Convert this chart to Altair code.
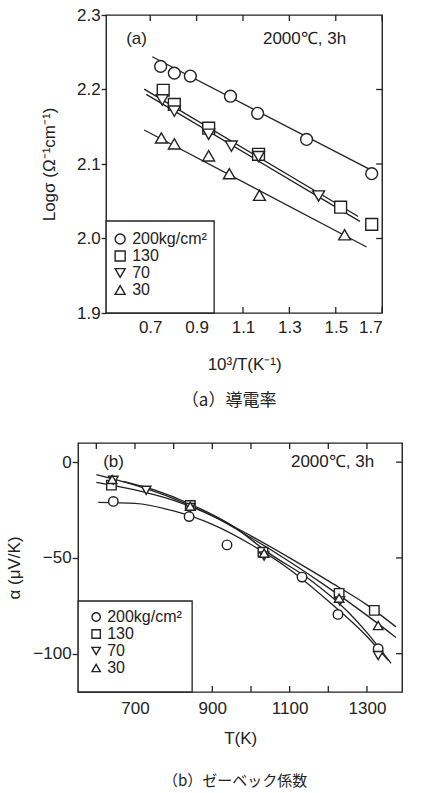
import altair as alt
import pandas as pd

FONT = "Liberation Sans Narrow, Liberation Sans, Arial, sans-serif"
CJK = "Noto Sans CJK JP"
INK = "#222222"

series = ["200kg/cm²", "130", "70", "30"]
shapes = ["circle", "square", "triangle-down", "triangle-up"]

# ---------------- Panel (a): conductivity ----------------
a_x_200 = [0.745, 0.804, 0.873, 1.046, 1.163, 1.374, 1.655]
a_y_200 = [2.231, 2.222, 2.218, 2.191, 2.168, 2.133, 2.087]
a_x_130 = [0.756, 0.804, 0.952, 1.167, 1.521, 1.655]
a_y_130 = [2.199, 2.180, 2.148, 2.113, 2.042, 2.019]
a_x_70 = [0.752, 0.804, 0.952, 1.050, 1.167, 1.426]
a_y_70 = [2.186, 2.171, 2.140, 2.124, 2.110, 2.057]
a_x_30 = [0.748, 0.804, 0.952, 1.041, 1.171, 1.538]
a_y_30 = [2.135, 2.127, 2.111, 2.087, 2.058, 2.005]

# fitted straight lines (end points)
a_line_x_200 = [0.709, 1.676]
a_line_y_200 = [2.244, 2.088]
a_line_x_130 = [0.674, 1.597]
a_line_y_130 = [2.2005, 2.0295]
a_line_x_70 = [0.683, 1.604]
a_line_y_70 = [2.1935, 2.0230]
a_line_x_30 = [0.674, 1.633]
a_line_y_30 = [2.1456, 1.9886]

a_xlabels = [0.7, 0.9, 1.1, 1.3, 1.5, 1.7]
a_ylabels = [1.9, 2.0, 2.1, 2.2, 2.3]
a_rticks = [2.0, 2.1, 2.2]

# ---------------- Panel (b): Seebeck coefficient ----------------
b_T_200 = [644, 840, 938, 1132, 1225, 1329]
b_a_200 = [-20.5, -28.4, -43.2, -60.0, -79.5, -97.4]
b_T_130 = [639, 843, 1031, 1228, 1319]
b_a_130 = [-12.0, -22.6, -47.0, -68.5, -77.4]
b_T_70 = [644, 729, 843, 1034, 1230, 1329]
b_a_70 = [-9.5, -14.7, -23.7, -49.0, -72.5, -101.0]
b_T_30 = [641, 843, 1034, 1228, 1329]
b_a_30 = [-9.0, -23.0, -47.5, -71.0, -85.3]

# hand-drawn curves (knots)
b_cT_200 = [605, 700, 800, 900, 1000, 1100, 1200, 1300, 1355]
b_ca_200 = [-21.0, -21.5, -25.5, -32.5, -43.0, -56.0, -72.5, -91.0, -103.5]
b_cT_130 = [600, 700, 800, 900, 1000, 1100, 1200, 1300, 1375]
b_ca_130 = [-10.5, -14.5, -20.0, -28.0, -38.5, -50.0, -62.0, -74.5, -86.0]
b_cT_70 = [670, 750, 850, 950, 1050, 1150, 1250, 1300, 1362]
b_ca_70 = [-10.0, -14.5, -22.5, -33.0, -48.0, -61.0, -78.0, -89.0, -105.0]
b_cT_30 = [600, 700, 800, 900, 1000, 1100, 1200, 1300, 1375]
b_ca_30 = [-6.5, -12.0, -19.0, -28.0, -39.5, -52.0, -65.5, -80.0, -91.5]

b_xlabels = [700, 900, 1100, 1300]
b_xticks = [600, 700, 800, 900, 1000, 1100, 1200, 1300]
b_ylabels = [0, -50, -100]


def long(xs, ys, name):
    return pd.DataFrame({"x": xs, "y": ys, "series": name})


a_pts = pd.concat([long(a_x_200, a_y_200, series[0]), long(a_x_130, a_y_130, series[1]),
                   long(a_x_70, a_y_70, series[2]), long(a_x_30, a_y_30, series[3])])
a_lines = pd.concat([long(a_line_x_200, a_line_y_200, series[0]), long(a_line_x_130, a_line_y_130, series[1]),
                     long(a_line_x_70, a_line_y_70, series[2]), long(a_line_x_30, a_line_y_30, series[3])])
b_pts = pd.concat([long(b_T_200, b_a_200, series[0]), long(b_T_130, b_a_130, series[1]),
                   long(b_T_70, b_a_70, series[2]), long(b_T_30, b_a_30, series[3])])
b_lines = pd.concat([long(b_cT_200, b_ca_200, series[0]), long(b_cT_130, b_ca_130, series[1]),
                     long(b_cT_70, b_ca_70, series[2]), long(b_cT_30, b_ca_30, series[3])])

one = pd.DataFrame({"k": [0]})
SHAPE = alt.Shape("series:N", scale=alt.Scale(domain=series, range=shapes), legend=None)


def key_box(H, w, h, sym_x, row_y, text_x, size, fs):
    """Legend box in the lower-left corner of the frame."""
    layers = [alt.Chart(one).mark_rect(fill="white", stroke=INK, strokeWidth=1.3).encode(
        x=alt.value(0), x2=alt.value(w), y=alt.value(H - h), y2=alt.value(H))]
    for s, ry in zip(series, row_y):
        d = pd.DataFrame({"series": [s]})
        layers.append(alt.Chart(d).mark_point(filled=False, fill="white", fillOpacity=1, stroke=INK,
                                              strokeWidth=1.4, size=size).encode(
            x=alt.value(sym_x), y=alt.value(ry), shape=SHAPE))
        layers.append(alt.Chart(d).mark_text(align="left", baseline="middle", font=FONT, fontSize=fs,
                                             color=INK).encode(
            x=alt.value(text_x), y=alt.value(ry), text="series:N"))
    return layers


def panel(pts, lines, W, H, xenc, yenc, xticks, yticks, tag, tag_x, note_x, tag_y, size, interp,
          left_ext, right_ext, caption, cap_dx, cap_offset, cap_size, key):
    ln = alt.Chart(lines).mark_line(stroke=INK, strokeWidth=1.3, interpolate=interp).encode(
        x=xenc, y=yenc, detail="series:N")
    pt = alt.Chart(pts).mark_point(filled=False, fill="white", fillOpacity=1, stroke=INK,
                                   strokeWidth=1.4, size=size).encode(x=xenc, y=yenc, shape=SHAPE)
    xt = pd.DataFrame({"x": xticks})
    yt = pd.DataFrame({"y": yticks})
    top = alt.Chart(xt).mark_rule(stroke=INK, strokeWidth=1.3).encode(x=xenc, y=alt.value(0), y2=alt.value(6))
    bot = alt.Chart(xt).mark_rule(stroke=INK, strokeWidth=1.3).encode(x=xenc, y=alt.value(H), y2=alt.value(H - 6))
    right = alt.Chart(yt).mark_rule(stroke=INK, strokeWidth=1.3).encode(y=yenc, x=alt.value(W), x2=alt.value(W - 6))
    t1 = alt.Chart(one).mark_text(align="left", baseline="middle", font=FONT, fontSize=17, color=INK).encode(
        x=alt.value(tag_x), y=alt.value(tag_y), text=alt.value(tag))
    t2 = alt.Chart(one).mark_text(align="right", baseline="middle", font=FONT, fontSize=17, color=INK).encode(
        x=alt.value(note_x), y=alt.value(tag_y), text=alt.value("2000℃, 3h"))
    ghost = alt.Chart(one).mark_rule(strokeOpacity=0, stroke="white").encode(
        x=alt.value(-left_ext), x2=alt.value(W + right_ext), y=alt.value(H / 2))
    return alt.layer(ln, top, bot, right, pt, t1, t2, *key, ghost).properties(
        width=W, height=H,
        title=alt.TitleParams(caption, orient="bottom", anchor="middle", frame="group", dx=cap_dx,
                              offset=cap_offset, font=CJK, fontSize=cap_size, fontWeight="normal",
                              color=INK))


WA, HA = 276, 298
xa = alt.X("x:Q", scale=alt.Scale(domain=[0.51, 1.70], nice=False, zero=False),
           axis=alt.Axis(values=a_xlabels, format=".1f", ticks=False, tickSize=0, labelPadding=6,
                         labelFlush=1, title="10³/T(K⁻¹)", titlePadding=21))
ya = alt.Y("y:Q", scale=alt.Scale(domain=[1.9, 2.3], nice=False, zero=False),
           axis=alt.Axis(values=a_ylabels, format=".1f", tickSize=5, labelPadding=1,
                         title="Logσ (Ω⁻¹cm⁻¹)", titlePadding=18))

WB, HB = 324, 249
xb = alt.X("x:Q", scale=alt.Scale(domain=[553, 1391], nice=False, zero=False),
           axis=alt.Axis(values=b_xlabels, format="d", ticks=False, tickSize=0, labelPadding=8,
                         title="T(K)", titlePadding=14))
yb = alt.Y("y:Q", scale=alt.Scale(domain=[-120, 10], nice=False, zero=False),
           axis=alt.Axis(values=b_ylabels, format="d", tickSize=6, labelPadding=1,
                         title="α (μV/K)", titlePadding=9))

key_a = key_box(HA, 108, 92, 14, [224, 241, 258, 275], 26, 100, 16)
key_b = key_box(HB, 114, 91, 18, [174, 191, 208, 225], 29, 70, 16)

pa = panel(a_pts, a_lines, WA, HA, xa, ya, a_xlabels, a_rticks, "(a)", 20, 240, 24,
           140, "linear", 72, 10, "（a）導電率", -15, 21, 17, key_a)
pb = panel(b_pts, b_lines, WB, HB, xb, yb, b_xticks, b_ylabels, "(b)", 25, 296, 19,
           90, "monotone", 72, 18, "（b）ゼーベック係数", -5, 28, 15, key_b)

chart = alt.vconcat(pa, pb, spacing=31, center=True).properties(
    padding={"left": 5, "top": 5, "right": 5, "bottom": 5}, background="white"
).resolve_scale(x="independent", y="independent", shape="independent").configure_view(
    stroke=INK, strokeWidth=1.4
).configure_axis(
    grid=False, domain=False, labelFont=FONT, titleFont=FONT, labelColor=INK, titleColor=INK,
    tickColor=INK, tickWidth=1.3, labelFontSize=17, titleFontSize=17, titleFontWeight="normal"
)

chart.save("out.html", embed_options={"renderer": "svg", "actions": False})
